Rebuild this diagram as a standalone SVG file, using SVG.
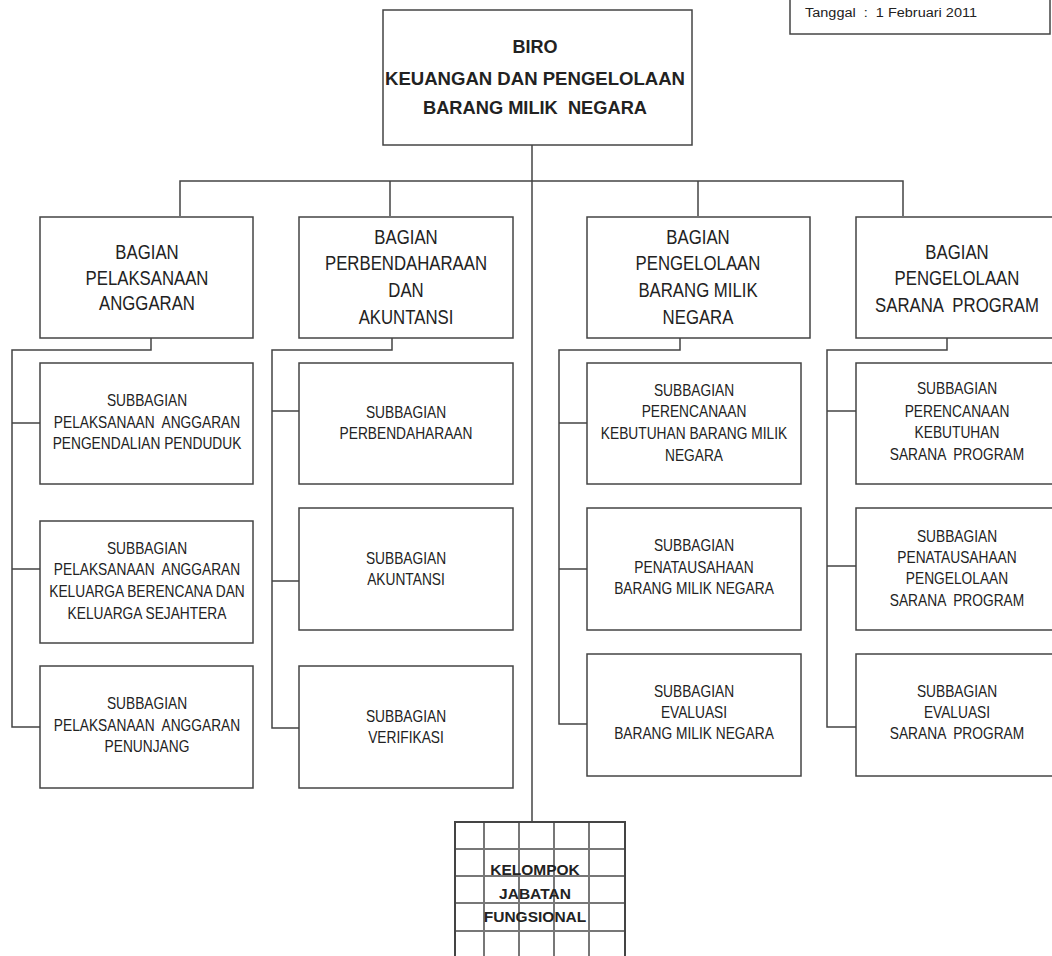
<svg xmlns="http://www.w3.org/2000/svg" width="1052" height="956" viewBox="0 0 1052 956">
<style>
.box{fill:#fff;stroke:#444;stroke-width:1.5}
.ln{fill:none;stroke:#444;stroke-width:1.5}
.grid{fill:none;stroke:#777;stroke-width:2}
text{font-family:"Liberation Sans",Arial,sans-serif;fill:#222;text-anchor:middle}
.t1{font-size:18px;font-weight:bold}
.t2{font-size:19.5px}
.t3{font-size:16px}
.t4{font-size:15.5px;font-weight:bold}
.t5{font-size:12.5px;text-anchor:start}
</style>
<rect width="1052" height="956" fill="#fff"/>
<g id="connectors" class="ln">
<path d="M532 145V822"/>
<path d="M180 216V181H903V216M390 181V216M698 181V216"/>
<path d="M151 338V350H12V727H40M12 423H40M12 569H40"/>
<path d="M392 338V350H272V728H299M272 411H299M272 581H299"/>
<path d="M680 338V350H559V724H587M559 423H587M559 569H587"/>
<path d="M947 338V350H827V727H856M827 411H856M827 566H856"/>
</g>
<g id="tanggal">
<rect class="box" x="790" y="-10" width="260" height="44"/>
<text class="t5" x="805" y="17" xml:space="preserve" textLength="172" lengthAdjust="spacingAndGlyphs">Tanggal  :  1 Februari 2011</text>
</g>
<g id="biro">
<rect class="box" x="383" y="10" width="309" height="135"/>
<text class="t1" x="535" y="53">BIRO</text>
<text class="t1" x="535" y="85" textLength="300" lengthAdjust="spacingAndGlyphs">KEUANGAN DAN PENGELOLAAN</text>
<text class="t1" x="535" y="114" xml:space="preserve" textLength="224" lengthAdjust="spacingAndGlyphs">BARANG MILIK  NEGARA</text>
</g>
<g id="bagian1">
<rect class="box" x="40" y="217" width="213" height="121"/>
<text class="t2" transform="matrix(.86 0 0 1 147 259)">BAGIAN</text>
<text class="t2" transform="matrix(.86 0 0 1 147 285)">PELAKSANAAN</text>
<text class="t2" transform="matrix(.86 0 0 1 147 310)">ANGGARAN</text>
</g>
<g id="bagian2">
<rect class="box" x="299" y="217" width="214" height="121"/>
<text class="t2" transform="matrix(.86 0 0 1 406 244)">BAGIAN</text>
<text class="t2" transform="matrix(.86 0 0 1 406 270)">PERBENDAHARAAN</text>
<text class="t2" transform="matrix(.86 0 0 1 406 297)">DAN</text>
<text class="t2" transform="matrix(.86 0 0 1 406 324)">AKUNTANSI</text>
</g>
<g id="bagian3">
<rect class="box" x="587" y="217" width="223" height="121"/>
<text class="t2" transform="matrix(.86 0 0 1 698 244)">BAGIAN</text>
<text class="t2" transform="matrix(.86 0 0 1 698 270)">PENGELOLAAN</text>
<text class="t2" transform="matrix(.86 0 0 1 698 297)">BARANG MILIK</text>
<text class="t2" transform="matrix(.86 0 0 1 698 324)">NEGARA</text>
</g>
<g id="bagian4">
<rect class="box" x="856" y="217" width="210" height="121"/>
<text class="t2" transform="matrix(.86 0 0 1 957 259)">BAGIAN</text>
<text class="t2" transform="matrix(.86 0 0 1 957 285)">PENGELOLAAN</text>
<text class="t2" transform="matrix(.86 0 0 1 957 312)" xml:space="preserve">SARANA  PROGRAM</text>
</g>
<g id="sub1a">
<rect class="box" x="40" y="363" width="213" height="121"/>
<text class="t3" transform="matrix(.86 0 0 1 147 406)">SUBBAGIAN</text>
<text class="t3" transform="matrix(.86 0 0 1 147 428)" xml:space="preserve">PELAKSANAAN  ANGGARAN</text>
<text class="t3" transform="matrix(.86 0 0 1 147 449)">PENGENDALIAN PENDUDUK</text>
</g>
<g id="sub1b">
<rect class="box" x="40" y="521" width="213" height="122"/>
<text class="t3" transform="matrix(.86 0 0 1 147 554)">SUBBAGIAN</text>
<text class="t3" transform="matrix(.86 0 0 1 147 575)" xml:space="preserve">PELAKSANAAN  ANGGARAN</text>
<text class="t3" transform="matrix(.86 0 0 1 147 597)">KELUARGA BERENCANA DAN</text>
<text class="t3" transform="matrix(.86 0 0 1 147 619)">KELUARGA SEJAHTERA</text>
</g>
<g id="sub1c">
<rect class="box" x="40" y="666" width="213" height="122"/>
<text class="t3" transform="matrix(.86 0 0 1 147 709)">SUBBAGIAN</text>
<text class="t3" transform="matrix(.86 0 0 1 147 731)" xml:space="preserve">PELAKSANAAN  ANGGARAN</text>
<text class="t3" transform="matrix(.86 0 0 1 147 752)">PENUNJANG</text>
</g>
<g id="sub2a">
<rect class="box" x="299" y="363" width="214" height="121"/>
<text class="t3" transform="matrix(.86 0 0 1 406 418)">SUBBAGIAN</text>
<text class="t3" transform="matrix(.86 0 0 1 406 439)">PERBENDAHARAAN</text>
</g>
<g id="sub2b">
<rect class="box" x="299" y="508" width="214" height="122"/>
<text class="t3" transform="matrix(.86 0 0 1 406 564)">SUBBAGIAN</text>
<text class="t3" transform="matrix(.86 0 0 1 406 585)">AKUNTANSI</text>
</g>
<g id="sub2c">
<rect class="box" x="299" y="666" width="214" height="122"/>
<text class="t3" transform="matrix(.86 0 0 1 406 722)">SUBBAGIAN</text>
<text class="t3" transform="matrix(.86 0 0 1 406 743)">VERIFIKASI</text>
</g>
<g id="sub3a">
<rect class="box" x="587" y="363" width="214" height="121"/>
<text class="t3" transform="matrix(.86 0 0 1 694 396)">SUBBAGIAN</text>
<text class="t3" transform="matrix(.86 0 0 1 694 417)">PERENCANAAN</text>
<text class="t3" transform="matrix(.86 0 0 1 694 439)">KEBUTUHAN BARANG MILIK</text>
<text class="t3" transform="matrix(.86 0 0 1 694 461)">NEGARA</text>
</g>
<g id="sub3b">
<rect class="box" x="587" y="508" width="214" height="122"/>
<text class="t3" transform="matrix(.86 0 0 1 694 551)">SUBBAGIAN</text>
<text class="t3" transform="matrix(.86 0 0 1 694 573)">PENATAUSAHAAN</text>
<text class="t3" transform="matrix(.86 0 0 1 694 594)">BARANG MILIK NEGARA</text>
</g>
<g id="sub3c">
<rect class="box" x="587" y="654" width="214" height="122"/>
<text class="t3" transform="matrix(.86 0 0 1 694 697)">SUBBAGIAN</text>
<text class="t3" transform="matrix(.86 0 0 1 694 718)">EVALUASI</text>
<text class="t3" transform="matrix(.86 0 0 1 694 739)">BARANG MILIK NEGARA</text>
</g>
<g id="sub4a">
<rect class="box" x="856" y="363" width="210" height="121"/>
<text class="t3" transform="matrix(.86 0 0 1 957 394)">SUBBAGIAN</text>
<text class="t3" transform="matrix(.86 0 0 1 957 417)">PERENCANAAN</text>
<text class="t3" transform="matrix(.86 0 0 1 957 438)">KEBUTUHAN</text>
<text class="t3" transform="matrix(.86 0 0 1 957 460)" xml:space="preserve">SARANA  PROGRAM</text>
</g>
<g id="sub4b">
<rect class="box" x="856" y="508" width="210" height="122"/>
<text class="t3" transform="matrix(.86 0 0 1 957 542)">SUBBAGIAN</text>
<text class="t3" transform="matrix(.86 0 0 1 957 563)">PENATAUSAHAAN</text>
<text class="t3" transform="matrix(.86 0 0 1 957 584)">PENGELOLAAN</text>
<text class="t3" transform="matrix(.86 0 0 1 957 606)" xml:space="preserve">SARANA  PROGRAM</text>
</g>
<g id="sub4c">
<rect class="box" x="856" y="654" width="210" height="122"/>
<text class="t3" transform="matrix(.86 0 0 1 957 697)">SUBBAGIAN</text>
<text class="t3" transform="matrix(.86 0 0 1 957 718)">EVALUASI</text>
<text class="t3" transform="matrix(.86 0 0 1 957 739)" xml:space="preserve">SARANA  PROGRAM</text>
</g>
<g id="kelompok">
<rect class="box" x="455" y="822" width="170" height="150"/>
<path class="grid" d="M484 822V960M519 822V960M554 822V960M589 822V960M455 849H625M455 876H625M455 903H625M455 931H625"/>
<rect x="455" y="822" width="170" height="150" fill="none" stroke="#444" stroke-width="2"/>
<text class="t4" x="535" y="875">KELOMPOK</text>
<text class="t4" x="535" y="899">JABATAN</text>
<text class="t4" x="535" y="922">FUNGSIONAL</text>
</g>
</svg>
